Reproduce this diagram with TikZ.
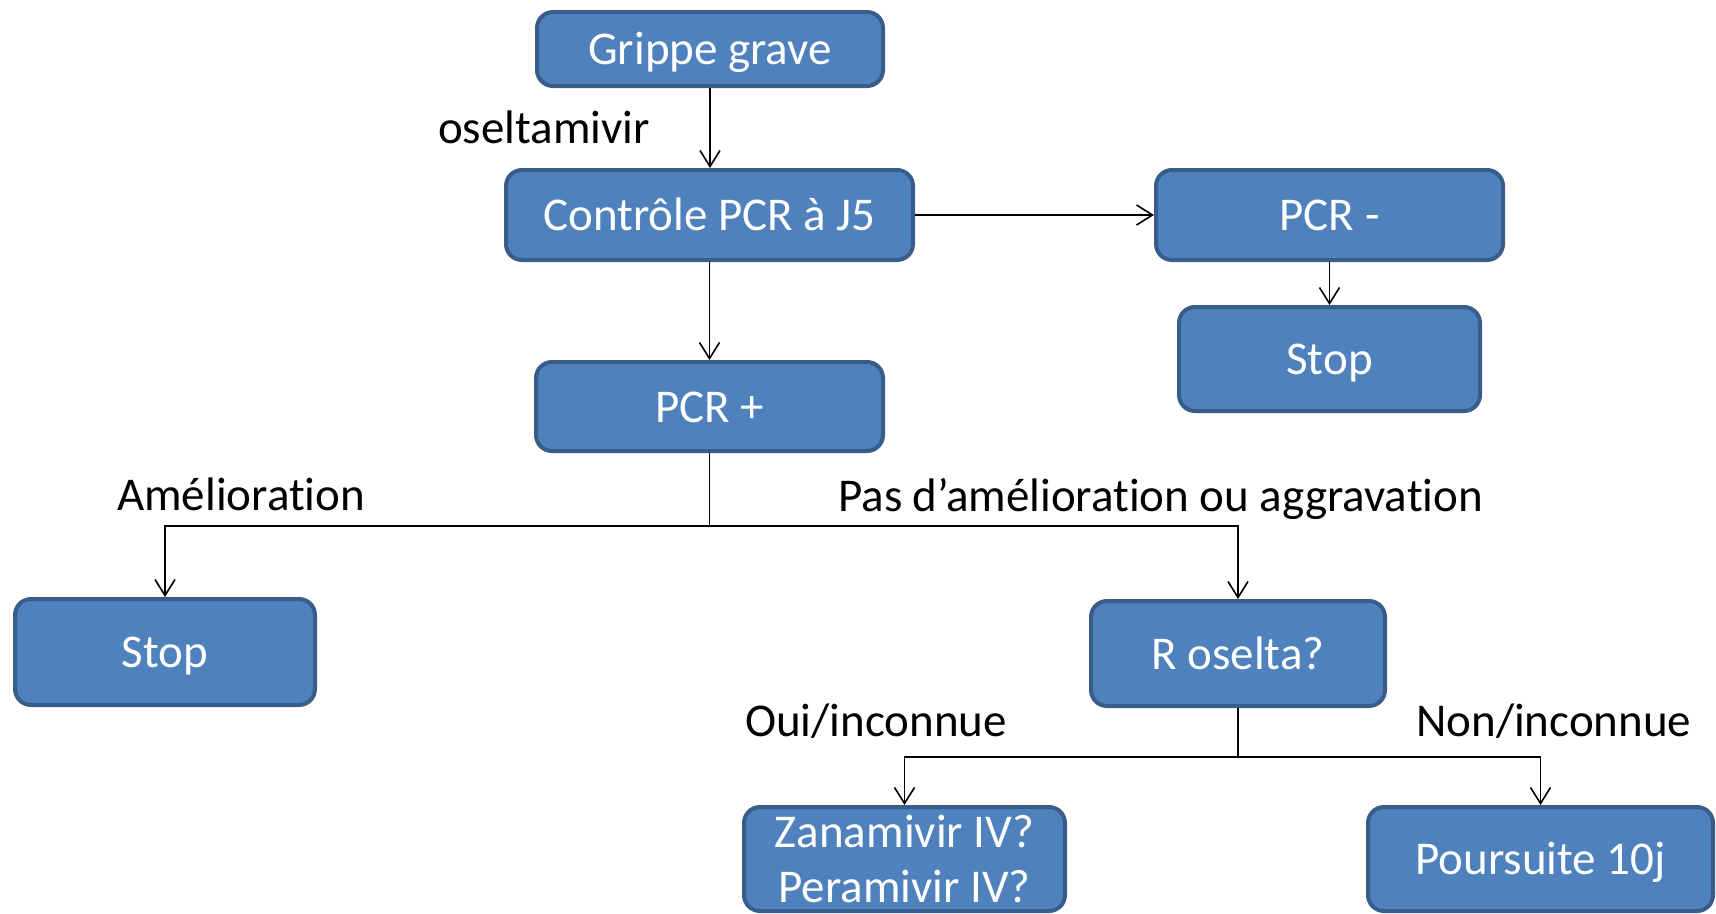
\documentclass[tikz,border=0pt]{standalone}
\usepackage{fontspec}
\setmainfont{Carlito}[Ligatures=NoCommon]
\usetikzlibrary{arrows.meta}
\definecolor{boxfill}{HTML}{4F81BD}
\definecolor{boxline}{HTML}{385D8A}
\newcommand{\nl}{\kern0pt}
\begin{document}
\begin{tikzpicture}[x=1pt,y=-1pt,
  box/.style={draw=boxline, line width=4pt, fill=boxfill, rounded corners=16pt,
    text=white, font=\fontsize{47}{55}\selectfont, inner sep=0pt,
    text height=31pt, text depth=0pt, align=center},
  lbl/.style={font=\fontsize{47}{55}\selectfont, inner sep=0pt, anchor=base west},
  conn/.style={line width=1.9pt, -{Straight Barb[length=16pt,width=20pt,line width=1.6pt]}}]
\useasboundingbox (0,0) rectangle (1716,913);
\node[box, minimum width=346pt, minimum height=74pt] (g) at (710,49) {Grippe grave};
\node[box, minimum width=407pt, minimum height=90pt] (c) at (709.5,215) {Contrôle PCR à J5};
\node[box, minimum width=347pt, minimum height=90pt] (pm) at (1329.5,215) {PCR -};
\node[box, minimum width=301pt, minimum height=104pt] (s1) at (1329.5,359) {Stop};
\node[box, minimum width=347pt, minimum height=89pt] (pp) at (709.5,406.5) {PCR +};
\node[box, minimum width=300pt, minimum height=106pt] (s2) at (165,652) {Stop};
\node[box, minimum width=294pt, minimum height=105pt] (r) at (1238,653.5) {R oselta?};
\node[box, minimum width=321pt, minimum height=104pt, text height=86pt, text depth=0pt] (z) at (904.5,859) {Zanamivir IV?\\Peramivir IV?};
\node[box, minimum width=345pt, minimum height=104pt] (p10) at (1540.5,859) {Poursuite 10j};
\node[lbl] (l1) at (438,143) {oseltamivir};
\node[lbl] (l2) at (117,510) {Améliorat\nl ion};
\node[lbl] (l3) at (838,511) {Pas d’améliorat\nl ion ou aggravat\nl ion};
\node[lbl] (l4) at (745,736) {Oui/inconnue};
\node[lbl] (l5) at (1416,736) {Non/inconnue};
\coordinate (b1) at (709.5,526);
\coordinate (b2) at (1238,757);
\draw[conn] (g.south) -- (g.south |- c.north);
\draw[conn] (c.east) -- (pm.west);
\draw[conn] (pm.south) -- (s1.north);
\draw[conn] (c.south) -- (pp.north);
\draw[conn] (pp.south) -- (b1) -| (s2.north);
\draw[conn] (b1) -| (r.north);
\draw[conn] (r.south) -- (b2) -| (z.north);
\draw[conn] (b2) -| (p10.north);
\end{tikzpicture}
\end{document}
